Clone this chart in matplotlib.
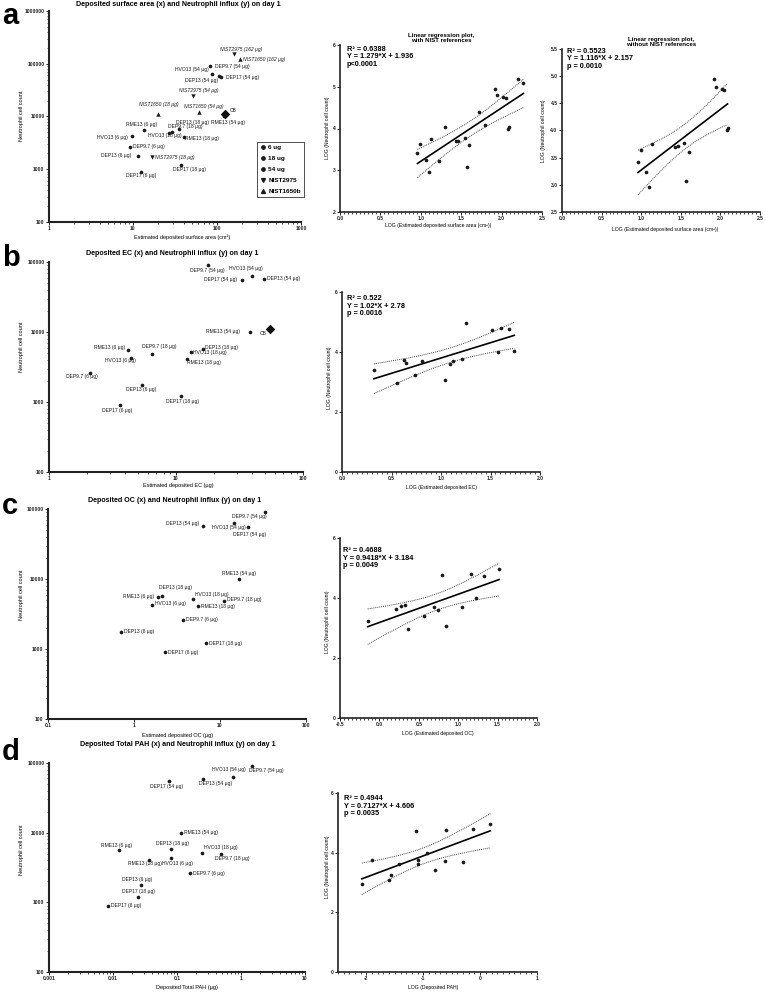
import numpy as np
import matplotlib
matplotlib.use('Agg')
import matplotlib.pyplot as plt
from matplotlib.ticker import AutoMinorLocator, LogLocator, NullFormatter, NullLocator
from matplotlib.lines import Line2D

plt.rcParams['font.family'] = ['Liberation Sans', 'DejaVu Sans']

W, H = 766, 992

# ---- data ----
samples = ['DEP9.7', 'DEP13', 'DEP17', 'HVO13', 'RME13']
doses = [6, 18, 54]

# neutrophil cell count on day 1 (rows = samples, cols = doses)
neutrophils = [[2600, 4900, 90000],
               [1750, 5800, 58000],
               [900, 1200, 55000],
               [4300, 5100, 63000],
               [5600, 4100, 10000]]
cb_neutrophils = 11000

# estimated deposited surface area (cm2)
surface_area = [[9.1, 27, 83],
                [11.5, 35, 105],
                [12.6, 37, 112],
                [9.8, 29, 87],
                [13.5, 40, 120]]
cb_surface_area = 123

# estimated deposited EC (ug)
ec = [[2.1, 6.5, 17.8],
      [5.4, 16.2, 49],
      [3.6, 11, 33],
      [4.4, 13.2, 40],
      [4.2, 12.3, 38]]
cb_ec = 55

# estimated deposited OC (ug)
oc = [[3.7, 11.2, 33],
      [0.71, 2.1, 6.3],
      [2.3, 6.9, 21],
      [1.62, 4.9, 14.5],
      [1.9, 5.5, 16.6]]

# deposited total PAH (ug)
pah = [[0.162, 0.49, 1.51],
       [0.027, 0.081, 0.251],
       [0.0083, 0.025, 0.075],
       [0.081, 0.245, 0.75],
       [0.0123, 0.037, 0.115]]

nist_names = ['NIST2975', 'NIST1650']
nist_doses = [18, 54, 162]
nist_surface_area = [[17, 52.5, 158], [20, 61.7, 186]]
nist_neutrophils = [[1700, 25000, 150000], [11000, 12000, 122000]]

# regression results printed on the plots
reg_r2 = ['0.6388', '0.5523', '0.522', '0.4688', '0.4944']
reg_slope = [1.279, 1.116, 1.02, 0.9418, 0.7127]
reg_intercept = [1.936, 2.157, 2.78, 3.184, 4.606]
reg_p = ['p<0.0001', 'p = 0.0010', 'p = 0.0016', 'p = 0.0049', 'p = 0.0035']

# ---- label placement (dx, dy in pixels, alignment) ----
def lab(key, dx, dy, ha='center'):
    return key, (dx, dy, ha)

offs_a = dict([
    lab(('DEP9.7', 54), 5, 0, 'left'), lab(('HVO13', 54), -3, 5, 'right'),
    lab(('DEP13', 54), -1, -4, 'right'), lab(('DEP17', 54), 5, 0, 'left'),
    lab(('RME13', 54), 4, -6), lab(('DEP13', 18), 14, 6),
    lab(('RME13', 6), -2, 5), lab(('DEP9.7', 18), -1, 6, 'left'),
    lab(('HVO13', 18), -7, -4), lab(('RME13', 18), 1, -2, 'left'),
    lab(('HVO13', 6), -4, -2, 'right'), lab(('DEP9.7', 6), 3, 1, 'left'),
    lab(('DEP13', 6), -7, 1, 'right'), lab(('DEP17', 18), 9, -4),
    lab(('DEP17', 6), 0, -4),
    lab(('NIST2975', 162), 7, 5), lab(('NIST1650', 162), 3, 0, 'left'),
    lab(('NIST2975', 54), 5, 5), lab(('NIST1650', 18), 0, 10),
    lab(('NIST1650', 54), 4, 6), lab(('NIST2975', 18), 3, 0, 'left'),
    lab(('CB', 0), 5, 4, 'left'),
])
offs_b = dict([
    lab(('DEP9.7', 54), 0, -5), lab(('HVO13', 54), -7, 8),
    lab(('DEP17', 54), -5, 1, 'right'), lab(('DEP13', 54), 3, 0, 'left'),
    lab(('RME13', 54), -10, 1, 'right'), lab(('CB', 0), -3, -4, 'right'),
    lab(('RME13', 6), -3, 2, 'right'), lab(('DEP9.7', 18), 7, 7),
    lab(('HVO13', 6), -10, -3), lab(('DEP13', 18), 2, 1, 'left'),
    lab(('HVO13', 18), 2, 0, 'left'), lab(('RME13', 18), 0, -3, 'left'),
    lab(('DEP9.7', 6), -8, -4), lab(('DEP13', 6), -1, -5),
    lab(('DEP17', 18), 1, -5), lab(('DEP17', 6), -3, -5),
])
offs_c = dict([
    lab(('DEP9.7', 54), -15, -4), lab(('HVO13', 54), -5, -4),
    lab(('DEP13', 54), -4, 2, 'right'), lab(('DEP17', 54), 2, -7),
    lab(('RME13', 54), 0, 6), lab(('DEP13', 18), 14, 8),
    lab(('RME13', 6), -4, 0, 'right'), lab(('HVO13', 18), 2, 5, 'left'),
    lab(('DEP9.7', 18), 3, 1, 'left'), lab(('HVO13', 6), 3, 1, 'left'),
    lab(('RME13', 18), 3, 0, 'left'), lab(('DEP9.7', 6), 3, 0, 'left'),
    lab(('DEP13', 6), 3, 0, 'left'), lab(('DEP17', 18), 3, 0, 'left'),
    lab(('DEP17', 6), 3, 0, 'left'),
])
offs_d = dict([
    lab(('DEP9.7', 54), 14, -4), lab(('HVO13', 54), -4, 7),
    lab(('DEP17', 54), -2, -5), lab(('DEP13', 54), 13, -4),
    lab(('RME13', 54), 3, 0, 'left'), lab(('RME13', 6), -2, 5),
    lab(('DEP13', 18), 1, 6), lab(('HVO13', 18), 2, 6, 'left'),
    lab(('RME13', 18), -4, -4), lab(('HVO13', 6), 6, -5),
    lab(('DEP9.7', 18), 11, -4), lab(('DEP9.7', 6), 3, 0, 'left'),
    lab(('DEP13', 6), -3, 6), lab(('DEP17', 18), 0, 5),
    lab(('DEP17', 6), 3, 0, 'left'),
])

fig = plt.figure(figsize=(W / 100, H / 100), dpi=100)
fig.patch.set_facecolor('white')

TICK_FS = 3.6
LAB_FS = 3.6
TITLE_FS = 5.1
AXLAB_FS = 4.0
REGLAB_FS = 3.7


def add_ax(x0, x1, top, bottom):
    return fig.add_axes([x0 / W, 1 - bottom / H, (x1 - x0) / W, (bottom - top) / H])


def ftext(x, y, s, **kw):
    fig.text(x / W, 1 - y / H, s, **kw)


def style_axes(ax, lw=1.3):
    for side in ['top', 'right']:
        ax.spines[side].set_visible(False)
    for side in ['left', 'bottom']:
        ax.spines[side].set_linewidth(lw)
        ax.spines[side].set_color('#222222')
    ax.tick_params(which='major', direction='out', length=2.2, width=0.7, pad=1,
                   labelsize=TICK_FS, colors='#222222')
    ax.tick_params(which='minor', direction='out', length=1.2, width=0.5)
    for t in ax.get_xticklabels() + ax.get_yticklabels():
        t.set_fontweight('bold')
    ax.patch.set_alpha(0)


def scatter_panel(ax, xvals, offs, xlim, ylim, xticks, xticklabels, yticks,
                  cb_x=None, nist=False, minor_x=True):
    ax.set_xscale('log')
    ax.set_yscale('log')
    for i, s in enumerate(samples):
        for j, d in enumerate(doses):
            x, y = xvals[i][j], neutrophils[i][j]
            ax.scatter(x, y, s=7, color='#1a1a1a', zorder=3, linewidths=0)
            dx, dy, ha = offs[(s, d)]
            ax.annotate(f'{s} ({d} µg)', (x, y), xytext=(dx, dy),
                        textcoords='offset pixels', ha=ha, va='center',
                        fontsize=LAB_FS, color='#1a1a1a')
    if cb_x is not None:
        ax.scatter(cb_x, cb_neutrophils, s=24, marker='D', color='#111111', zorder=3,
                   linewidths=0)
        dx, dy, ha = offs[('CB', 0)]
        ax.annotate('CB', (cb_x, cb_neutrophils), xytext=(dx, dy),
                    textcoords='offset pixels', ha=ha, va='center',
                    fontsize=LAB_FS, color='#1a1a1a')
    if nist:
        for k, name in enumerate(nist_names):
            mk = 'v' if k == 0 else '^'
            for j, d in enumerate(nist_doses):
                x, y = nist_surface_area[k][j], nist_neutrophils[k][j]
                ax.scatter(x, y, s=10, marker=mk, color='#1a1a1a', zorder=3, linewidths=0)
                dx, dy, ha = offs[(name, d)]
                ax.annotate(f'{name} ({d} µg)', (x, y), xytext=(dx, dy),
                            textcoords='offset pixels', ha=ha, va='center',
                            fontsize=LAB_FS, style='italic', color='#1a1a1a')
    ax.set_xlim(*xlim)
    ax.set_ylim(*ylim)
    ax.set_xticks(xticks)
    ax.set_xticklabels(xticklabels)
    ax.set_yticks(yticks)
    ax.set_yticklabels([str(v) for v in yticks])
    ax.yaxis.set_minor_locator(LogLocator(base=10, subs=np.arange(2, 10), numticks=20))
    ax.yaxis.set_minor_formatter(NullFormatter())
    if minor_x:
        ax.xaxis.set_minor_locator(LogLocator(base=10, subs=np.arange(2, 10), numticks=20))
    else:
        ax.xaxis.set_minor_locator(NullLocator())
    ax.xaxis.set_minor_formatter(NullFormatter())
    style_axes(ax, lw=1.5)


def t_value(df):
    table = {13: 2.160, 14: 2.145, 20: 2.086}
    return table[df]


def regression_panel(ax, lx, ly, k, xlim, ylim, xticks, xticklabels, yticks, yticklabels,
                     stats_xy):
    lx = np.asarray(lx, float)
    ly = np.asarray(ly, float)
    slope, icpt = reg_slope[k], reg_intercept[k]
    ax.scatter(lx, ly, s=7, color='#1a1a1a', zorder=3, linewidths=0)
    xs = np.linspace(lx.min(), lx.max(), 60)
    ax.plot(xs, slope * xs + icpt, color='black', lw=1.2, zorder=2)
    n = len(lx)
    resid = ly - (slope * lx + icpt)
    s = np.sqrt(np.sum(resid ** 2) / (n - 2))
    se = s * np.sqrt(1 / n + (xs - lx.mean()) ** 2 / np.sum((lx - lx.mean()) ** 2))
    band = t_value(n - 2) * se
    ax.plot(xs, slope * xs + icpt + band, color='#444444', lw=0.7, ls=(0, (1, 1)))
    ax.plot(xs, slope * xs + icpt - band, color='#444444', lw=0.7, ls=(0, (1, 1)))
    ax.set_xlim(*xlim)
    ax.set_ylim(*ylim)
    ax.set_xticks(xticks)
    ax.set_xticklabels(xticklabels)
    ax.set_yticks(yticks)
    ax.set_yticklabels(yticklabels)
    ax.xaxis.set_minor_locator(AutoMinorLocator(10))
    style_axes(ax, lw=1.2)
    txt = f'R² = {reg_r2[k]}\nY = {slope}*X + {icpt}\n{reg_p[k]}'
    ftext(stats_xy[0], stats_xy[1], txt, fontsize=5.3, fontweight='bold',
          va='top', ha='left', linespacing=1.1)


def flat(vals):
    return [v for row in vals for v in row]


ny = flat(neutrophils)

# ---------------- panel a ----------------
ax = add_ax(49, 301, 11, 222)
scatter_panel(ax, surface_area, offs_a, (1, 1000), (100, 1e6), [1, 10, 100, 1000],
              ['1', '10', '100', '1000'], [100, 1000, 10000, 100000, 1000000],
              cb_x=cb_surface_area, nist=True)
handles = [Line2D([], [], marker='o', ls='', color='#1a1a1a', markersize=2.4),
           Line2D([], [], marker='o', ls='', color='#1a1a1a', markersize=2.4),
           Line2D([], [], marker='o', ls='', color='#1a1a1a', markersize=2.4),
           Line2D([], [], marker='v', ls='', color='#1a1a1a', markersize=2.8),
           Line2D([], [], marker='^', ls='', color='#1a1a1a', markersize=2.8)]
leg = ax.legend(handles, ['6 ug', '18 ug', '54 ug', 'NIST2975', 'NIST1650b'],
                loc='lower right', bbox_to_anchor=(304 / W, 1 - 197 / H),
                bbox_transform=fig.transFigure, frameon=True, fancybox=False,
                prop={'size': 4.6, 'weight': 'bold'}, handlelength=0.8,
                handletextpad=0.5, labelspacing=0.85, borderpad=0.5,
                borderaxespad=0)
leg.get_frame().set_edgecolor('#222222')
leg.get_frame().set_linewidth(0.7)

ftext(178, 5, 'Deposited surface area (x) and Neutrophil influx (y) on day 1',
      fontsize=TITLE_FS, fontweight='bold', ha='center', va='center')
ftext(182, 237, 'Estimated deposited surface area (cm²)', fontsize=AXLAB_FS,
      ha='center', va='center')
ftext(22, 116, 'Neutrophil cell count', fontsize=AXLAB_FS, rotation=90,
      ha='center', va='center')
ftext(2, 16, 'a', fontsize=21, fontweight='bold', ha='left', va='center')

# regression with NIST
lx_all = np.log10(flat(surface_area) + [cb_surface_area] + flat(nist_surface_area))
ly_all = np.log10(ny + [cb_neutrophils] + flat(nist_neutrophils))
ax = add_ax(340, 542, 45, 212)
regression_panel(ax, lx_all, ly_all, 0, (0, 2.5), (2, 6),
                 [0, 0.5, 1, 1.5, 2, 2.5], ['0.0', '0.5', '1.0', '1.5', '2.0', '2.5'],
                 [2, 3, 4, 5, 6], ['2', '3', '4', '5', '6'], (347, 46))
ftext(441, 38, 'Linear regression plot,\nwith NIST references', fontsize=4.4,
      fontweight='bold', ha='center', va='center', linespacing=1.05)
ftext(438, 226, 'LOG (Estimated deposited surface area (cm²))', fontsize=REGLAB_FS,
      ha='center', va='center')
ftext(328, 128, 'LOG (Neutrophil cell count)', fontsize=REGLAB_FS, rotation=90,
      ha='center', va='center')

# regression without NIST
lx = np.log10(flat(surface_area) + [cb_surface_area])
ly = np.log10(ny + [cb_neutrophils])
ax = add_ax(562, 760, 49, 212)
regression_panel(ax, lx, ly, 1, (0, 2.5), (2.5, 5.5),
                 [0, 0.5, 1, 1.5, 2, 2.5], ['0.0', '0.5', '1.0', '1.5', '2.0', '2.5'],
                 [2.5, 3, 3.5, 4, 4.5, 5, 5.5],
                 ['2.5', '3.0', '3.5', '4.0', '4.5', '5.0', '5.5'], (567, 48))
ftext(661, 42, 'Linear regression plot,\nwithout NIST references', fontsize=4.4,
      fontweight='bold', ha='center', va='center', linespacing=1.05)
ftext(665, 229, 'LOG (Estimated deposited surface area (cm²))', fontsize=REGLAB_FS,
      ha='center', va='center')
ftext(543, 131, 'LOG (Neutrophil cell count)', fontsize=REGLAB_FS, rotation=90,
      ha='center', va='center')

# ---------------- panel b ----------------
ax = add_ax(49, 303, 262, 472)
scatter_panel(ax, ec, offs_b, (1, 100), (100, 1e5), [1, 10, 100], ['1', '10', '100'],
              [100, 1000, 10000, 100000], cb_x=cb_ec)
ftext(172, 253, 'Deposited EC (x) and Neutrophil influx (y) on day 1',
      fontsize=TITLE_FS, fontweight='bold', ha='center', va='center')
ftext(178, 485, 'Estimated deposited EC (µg)', fontsize=AXLAB_FS, ha='center', va='center')
ftext(22, 347, 'Neutrophil cell count', fontsize=AXLAB_FS, rotation=90,
      ha='center', va='center')
ftext(2, 258, 'b', fontsize=21, fontweight='bold', ha='left', va='center')

lx = np.log10(flat(ec) + [cb_ec])
ly = np.log10(ny + [cb_neutrophils])
ax = add_ax(342, 540, 292, 472)
regression_panel(ax, lx, ly, 2, (0, 2), (0, 6),
                 [0, 0.5, 1, 1.5, 2], ['0.0', '0.5', '1.0', '1.5', '2.0'],
                 [0, 2, 4, 6], ['0', '2', '4', '6'], (347, 295))
ftext(441, 487, 'LOG (Estimated deposited EC)', fontsize=REGLAB_FS, ha='center', va='center')
ftext(329, 378, 'LOG (Neutrophil cell count)', fontsize=REGLAB_FS, rotation=90,
      ha='center', va='center')

# ---------------- panel c ----------------
ax = add_ax(48, 306, 509, 719)
scatter_panel(ax, oc, offs_c, (0.1, 100), (100, 1e5), [0.1, 1, 10, 100],
              ['0.1', '1', '10', '100'], [100, 1000, 10000, 100000], minor_x=False)
ftext(175, 500, 'Deposited OC (x) and Neutrophil influx (y) on day 1',
      fontsize=TITLE_FS, fontweight='bold', ha='center', va='center')
ftext(178, 735, 'Estimated deposited OC (µg)', fontsize=AXLAB_FS, ha='center', va='center')
ftext(22, 595, 'Neutrophil cell count', fontsize=AXLAB_FS, rotation=90,
      ha='center', va='center')
ftext(2, 506, 'c', fontsize=21, fontweight='bold', ha='left', va='center')

lx = np.log10(flat(oc))
ly = np.log10(ny)
ax = add_ax(340, 537, 538, 718)
regression_panel(ax, lx, ly, 3, (-0.5, 2), (0, 6),
                 [-0.5, 0, 0.5, 1, 1.5, 2], ['-0.5', '0.0', '0.5', '1.0', '1.5', '2.0'],
                 [0, 2, 4, 6], ['0', '2', '4', '6'], (343, 547))
ftext(438, 733, 'LOG (Estimated deposited OC)', fontsize=REGLAB_FS, ha='center', va='center')
ftext(327, 622, 'LOG (Neutrophil cell count)', fontsize=REGLAB_FS, rotation=90,
      ha='center', va='center')

# ---------------- panel d ----------------
ax = add_ax(49, 305, 763, 972)
scatter_panel(ax, pah, offs_d, (0.001, 10), (100, 1e5), [0.001, 0.01, 0.1, 1, 10],
              ['0.001', '0.01', '0.1', '1', '10'], [100, 1000, 10000, 100000])
ftext(178, 744, 'Deposited Total PAH (x) and Neutrophil influx (y) on day 1',
      fontsize=TITLE_FS, fontweight='bold', ha='center', va='center')
ftext(187, 987, 'Deposited Total PAH (µg)', fontsize=AXLAB_FS, ha='center', va='center')
ftext(22, 850, 'Neutrophil cell count', fontsize=AXLAB_FS, rotation=90,
      ha='center', va='center')
ftext(2, 752, 'd', fontsize=21, fontweight='bold', ha='left', va='center')

lx = np.log10(flat(pah))
ly = np.log10(ny)
ax = add_ax(338, 537, 793, 972)
regression_panel(ax, lx, ly, 4, (-2.5, 1), (0, 6),
                 [-2, -1, 0, 1], ['-2', '-1', '0', '1'],
                 [0, 2, 4, 6], ['0', '2', '4', '6'], (344, 795))
ftext(433, 987, 'LOG (Deposited PAH)', fontsize=REGLAB_FS, ha='center', va='center')
ftext(328, 867, 'LOG (Neutrophil cell count)', fontsize=REGLAB_FS, rotation=90,
      ha='center', va='center')

fig.savefig('out.png', dpi=100, facecolor='white')
